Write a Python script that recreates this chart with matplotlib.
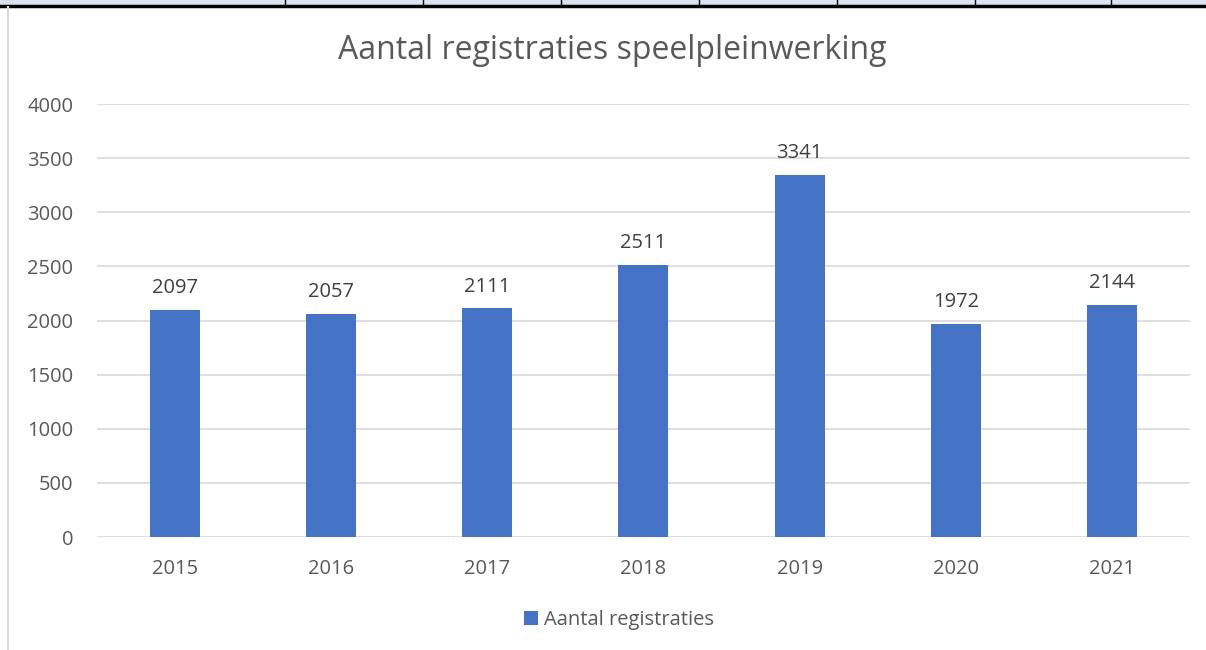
import matplotlib.pyplot as plt
from matplotlib.patches import Rectangle
from matplotlib.lines import Line2D

years = ["2015", "2016", "2017", "2018", "2019", "2020", "2021"]
registraties = [2097, 2057, 2111, 2511, 3341, 1972, 2144]
yticks = [0, 500, 1000, 1500, 2000, 2500, 3000, 3500, 4000]

plt.rcParams['font.family'] = ['Open Sans', 'DejaVu Sans']

fig = plt.figure(figsize=(12.06, 6.5), dpi=100)
ax = fig.add_axes([0.0804, 0.1738, 0.9063, 0.6662])

x = list(range(len(years)))
bars = ax.bar(x, registraties, width=0.32, color="#4472C4", zorder=3,
              label="Aantal registraties")
for xi, v in zip(x, registraties):
    ax.text(xi, v + 110, str(v), ha="center", va="bottom", fontsize=14.5, color="#404040")

ax.set_xlim(-0.5, len(years) - 0.5)
ax.set_ylim(0, 4000)
ax.set_yticks(yticks)
ax.set_xticks(x)
ax.set_xticklabels(years)
ax.tick_params(axis="both", length=0, labelsize=14.5, labelcolor="#595959")
ax.tick_params(axis="y", pad=17)
ax.tick_params(axis="x", pad=16)
ax.grid(axis="y", color="#D9D9D9", linewidth=1.2, zorder=0)
for s in ax.spines.values():
    s.set_visible(False)

fig.text(0.508, 0.922, "Aantal registraties speelpleinwerking", ha="center", va="center",
         fontsize=23, color="#595959")

ax.legend(loc="center", bbox_to_anchor=(0.478, -0.192), frameon=False, fontsize=14.5,
          labelcolor="#595959", handlelength=0.7, handleheight=0.7, handletextpad=0.3)

# table strip and border on top
fig.patches.append(Rectangle((0, 1 - 5 / 650), 1, 5 / 650, transform=fig.transFigure,
                             facecolor="#D9E2F3", edgecolor="none"))
fig.lines.append(Line2D([0, 1], [1 - 6 / 650] * 2, transform=fig.transFigure,
                        color="black", linewidth=2.5))
for px in [285, 423, 561, 699, 837, 975, 1111]:
    fig.lines.append(Line2D([px / 1206] * 2, [1 - 6 / 650, 1], transform=fig.transFigure,
                            color="black", linewidth=1))
fig.lines.append(Line2D([8 / 1206] * 2, [0, 1 - 7 / 650], transform=fig.transFigure,
                        color="#D9D9D9", linewidth=1.5))

fig.savefig("out.png", dpi=100)
